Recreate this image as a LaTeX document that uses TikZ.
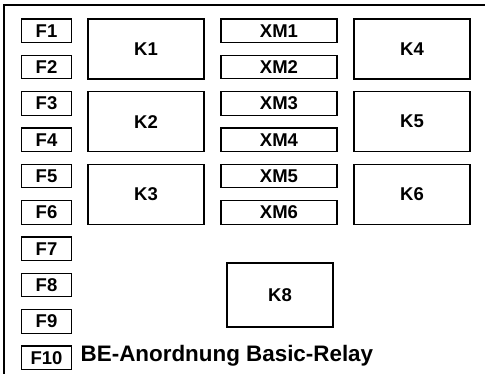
\documentclass[tikz,border=0pt]{standalone}
\usepackage{fontspec}
\setmainfont{Liberation Sans}
\begin{document}
\begin{tikzpicture}[x=1pt,y=-1pt,
    box/.style={draw, line width=1.2pt, inner sep=0pt, font=\fontsize{18.5}{20}\selectfont\bfseries},
    fuse/.style={box, minimum width=50pt, minimum height=23.5pt},
    plug/.style={box, minimum width=116pt, minimum height=23.5pt},
    relay/.style={box, minimum width=116pt, minimum height=60pt}]
\useasboundingbox (0,0) rectangle (485,374);
% Rahmen (nur oben und links)
\draw[line width=2.4pt] (4,374) -- (4,5.3) -- (485,5.3);
% Sicherungen F1..F10
\foreach \i in {1,...,10}
  \node[fuse] (F\i) at (46.5,{30.75+36.33*(\i-1)}) {F\i};
% Steckplaetze XM1..XM6
\foreach \i in {1,...,6}
  \node[plug] (XM\i) at (279,{30.75+36.33*(\i-1)}) {XM\i};
% Relais
\node[relay] (K1) at (146,49) {K1};
\node[relay] (K2) at (146,121.7) {K2};
\node[relay] (K3) at (146,194.3) {K3};
\node[relay] (K4) at (412,49) {K4};
\node[relay] (K5) at (412,121.7) {K5};
\node[relay] (K6) at (412,194.3) {K6};
\node[box, minimum width=106pt, minimum height=64pt] (K8) at (280,295) {K8};
% Titel
\node[anchor=base west, inner sep=0pt, font=\fontsize{22.4}{24}\selectfont\bfseries] (titel) at (80.5,361) {BE-Anordnung Basic-Relay};
\end{tikzpicture}
\end{document}
